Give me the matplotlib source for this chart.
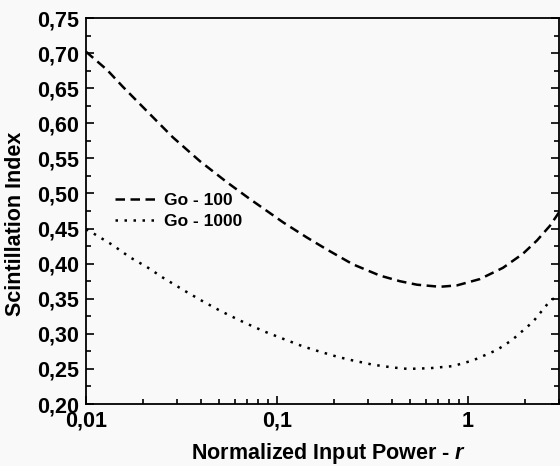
import numpy as np
import matplotlib.pyplot as plt
from matplotlib import ticker

plt.rcParams['font.family'] = ['Liberation Sans', 'DejaVu Sans']
plt.rcParams['font.weight'] = 'bold'
plt.rcParams['mathtext.fontset'] = 'custom'
plt.rcParams['mathtext.it'] = 'Liberation Sans:italic:bold'
plt.rcParams['mathtext.rm'] = 'Liberation Sans:bold'

# Curvas
r_go100 = [0.01, 0.0129, 0.0156, 0.0209, 0.0285, 0.0395, 0.0547, 0.0722, 0.0887,
           0.1075, 0.144, 0.183, 0.250, 0.346, 0.440, 0.541, 0.713, 0.876,
           1.155, 1.525, 1.94, 2.30, 2.69, 3.0]
si_go100 = [0.702, 0.676, 0.652, 0.617, 0.580, 0.546, 0.516, 0.492, 0.475,
            0.459, 0.437, 0.420, 0.399, 0.383, 0.375, 0.370, 0.367, 0.369,
            0.378, 0.394, 0.414, 0.433, 0.454, 0.473]

r_go1000 = [0.01, 0.0111, 0.0137, 0.0170, 0.0209, 0.0253, 0.0330, 0.0405, 0.0503,
            0.0618, 0.0688, 0.0865, 0.1075, 0.137, 0.166, 0.209, 0.250, 0.318,
            0.405, 0.485, 0.632, 0.834, 1.06, 1.42, 1.70, 2.19, 2.62, 3.0]
si_go1000 = [0.449, 0.442, 0.427, 0.409, 0.395, 0.380, 0.361, 0.347, 0.333,
             0.321, 0.315, 0.303, 0.293, 0.282, 0.275, 0.267, 0.262, 0.256,
             0.252, 0.250, 0.251, 0.254, 0.262, 0.277, 0.291, 0.317, 0.343, 0.357]

x_ticks = [0.01, 0.1, 1]
x_labels = ['0,01', '0,1', '1']

fig = plt.figure(figsize=(5.6, 4.66), dpi=100, facecolor='#f9f9f9')
ax = fig.add_axes([86 / 560, 62 / 466, 473 / 560, 386 / 466])
ax.set_facecolor('#f9f9f9')

ax.plot(r_go100, si_go100, color='black', linewidth=1.8, dashes=(3.8, 2.2), label='Go - 100')
ax.plot(r_go1000, si_go1000, color='black', linewidth=1.8, dashes=(1, 2.6), label='Go - 1000')

ax.set_xscale('log')
ax.set_xlim(0.01, 3.0)
ax.set_ylim(0.20, 0.75)

ax.set_xticks(x_ticks)
ax.set_xticklabels(x_labels)
ax.xaxis.set_minor_locator(ticker.LogLocator(base=10, subs=np.arange(2, 10)))
ax.xaxis.set_minor_formatter(ticker.NullFormatter())

ax.yaxis.set_major_locator(ticker.MultipleLocator(0.05))
ax.yaxis.set_minor_locator(ticker.MultipleLocator(0.025))
ax.yaxis.set_major_formatter(ticker.FuncFormatter(lambda v, p: f'{v:.2f}'.replace('.', ',')))

for s in ax.spines.values():
    s.set_linewidth(1.3)

ax.tick_params(which='both', direction='in', left=True, right=True, bottom=True, top=False,
               labelsize=15.5, width=1.2)
ax.tick_params(which='major', length=6, pad=5)
ax.tick_params(which='minor', length=3.5)

ax.set_xlabel('Normalized Input Power - $r$', fontsize=15.5, fontweight='bold')
ax.set_ylabel('Scintillation Index', fontsize=15.5, fontweight='bold')
ax.xaxis.label.set_verticalalignment('baseline')
ax.xaxis.set_label_coords(0.512, -0.143)
ax.yaxis.set_label_coords(-0.127, 0.466)

ax.legend(loc='center left', bbox_to_anchor=(29 / 473, 0.5), frameon=False, fontsize=12.5,
          borderpad=0, borderaxespad=0, handlelength=2.4, handletextpad=0.45, labelspacing=0.35)

plt.savefig('out.png', dpi=100, facecolor=fig.get_facecolor())
